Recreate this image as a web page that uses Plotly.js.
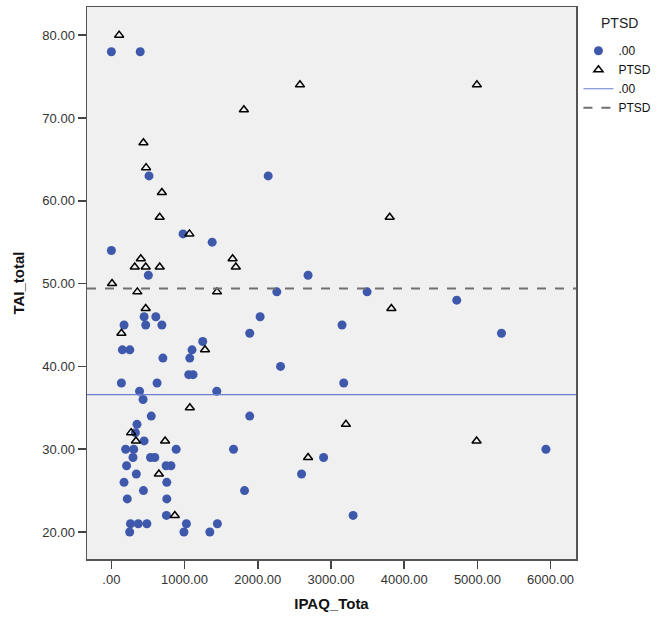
<!DOCTYPE html>
<html>
<head>
<meta charset="utf-8">
<script src="https://cdn.plot.ly/plotly-3.0.1.min.js"></script>
<style>html,body{margin:0;padding:0;background:#fff;}#chart{width:663px;height:625px;}</style>
</head>
<body>
<div id="chart"></div>
<script>
// Group ".00" (filled circles)
const noPtsdX = [0,394,514,2142,979,1377,0,505,2687,2260,3493,4718,447,607,2032,173,469,690,3151,1890,5329,1248,150,252,1102,704,1071,2311,1057,1116,137,624,3174,385,1440,433,545,1890,350,328,447,195,305,885,1669,5936,295,535,593,2899,208,748,814,341,2598,173,757,438,1819,217,757,752,3302,261,367,485,1025,1448,250,991,1345];
const noPtsdY = [78,78,63,63,56,55,54,51,51,49,49,48,46,46,46,45,45,45,45,44,44,43,42,42,42,41,41,40,39,39,38,38,38,37,37,36,34,34,33,32,31,30,30,30,30,30,29,29,29,29,28,28,28,27,27,26,26,25,25,24,24,22,22,21,21,21,21,21,20,20,20];
// Group "PTSD" (open triangles)
const ptsdX = [106,2576,4993,1810,438,474,690,660,3802,1066,402,1656,319,469,660,1700,9,355,1443,469,3825,137,1279,1072,3204,270,336,734,4989,2687,649,867];
const ptsdY = [80,74,74,71,67,64,61,58,58,56,53,53,52,52,52,52,50,49,49,47,47,44,42,35,33,32,31,31,31,29,27,22];
// Group mean reference lines
const meanNoPtsd = 36.6;
const meanPtsd = 49.4;
// Tick labels
const xTickVals = [0,1000,2000,3000,4000,5000,6000];
const xTickText = ['.00','1000.00','2000.00','3000.00','4000.00','5000.00','6000.00'];
const yTickVals = [20,30,40,50,60,70,80];
const yTickText = ['20.00','30.00','40.00','50.00','60.00','70.00','80.00'];

const font = 'Liberation Sans, Arial, sans-serif';

const traces = [
  {
    type: 'scatter', mode: 'markers', name: '.00',
    x: noPtsdX, y: noPtsdY,
    marker: {symbol: 'circle', size: 9, color: '#3E58AC', line: {width: 0}},
    legendrank: 1
  },
  {
    type: 'scatter', mode: 'markers', name: 'PTSD',
    x: ptsdX, y: ptsdY,
    marker: {symbol: 'triangle-up-open', size: 8, color: '#000000', line: {width: 1.5, color: '#000000'}},
    legendrank: 2
  }
];

const layout = {
  width: 663, height: 625,
  margin: {l: 87, r: 75, t: 7, b: 66},
  paper_bgcolor: '#ffffff',
  plot_bgcolor: '#F0F0F0',
  font: {family: font, size: 12, color: '#222222'},
  showlegend: true,
  legend: {
    x: 1.005, y: 0.947, xref: 'paper', xanchor: 'left', yanchor: 'top',
    font: {size: 12, color: '#111'},
    itemwidth: 30, tracegroupgap: 0,
    bgcolor: 'rgba(0,0,0,0)'
  },
  annotations: [
    {text: 'PTSD', xref: 'paper', yref: 'paper', x: 1.048, y: 0.971, xanchor: 'left', yanchor: 'middle',
     showarrow: false, font: {size: 14, color: '#222'}}
  ],
  xaxis: {
    range: [-333, 6347],
    tickvals: xTickVals, ticktext: xTickText,
    ticks: 'outside', ticklen: 8, tickcolor: '#444', tickwidth: 1.5,
    showline: true, linecolor: '#555', linewidth: 1.5, mirror: true,
    showgrid: false, zeroline: false,
    tickfont: {size: 13, color: '#333'},
    title: {text: 'IPAQ_Tota', font: {size: 15, color: '#111', weight: 'bold'}, standoff: 12}
  },
  yaxis: {
    range: [16.74, 83.4],
    tickvals: yTickVals, ticktext: yTickText,
    ticks: 'outside', ticklen: 8, tickcolor: '#444', tickwidth: 1.5,
    showline: true, linecolor: '#555', linewidth: 1.5, mirror: true,
    showgrid: false, zeroline: false,
    tickfont: {size: 13, color: '#333'},
    title: {text: 'TAI_total', font: {size: 15, color: '#111', weight: 'bold'}, standoff: 14}
  },
  shapes: [
    {type: 'line', xref: 'paper', x0: 0, x1: 1, yref: 'y', y0: meanNoPtsd, y1: meanNoPtsd,
     line: {color: '#6A7FD0', width: 1.2}, name: '.00', showlegend: true, legendrank: 3},
    {type: 'line', xref: 'paper', x0: 0, x1: 1, yref: 'y', y0: meanPtsd, y1: meanPtsd,
     line: {color: '#707070', width: 2, dash: 'dash'}, name: 'PTSD', showlegend: true, legendrank: 4}
  ]
};

Plotly.newPlot('chart', traces, layout, {displayModeBar: false, staticPlot: true});
</script>
</body>
</html>
